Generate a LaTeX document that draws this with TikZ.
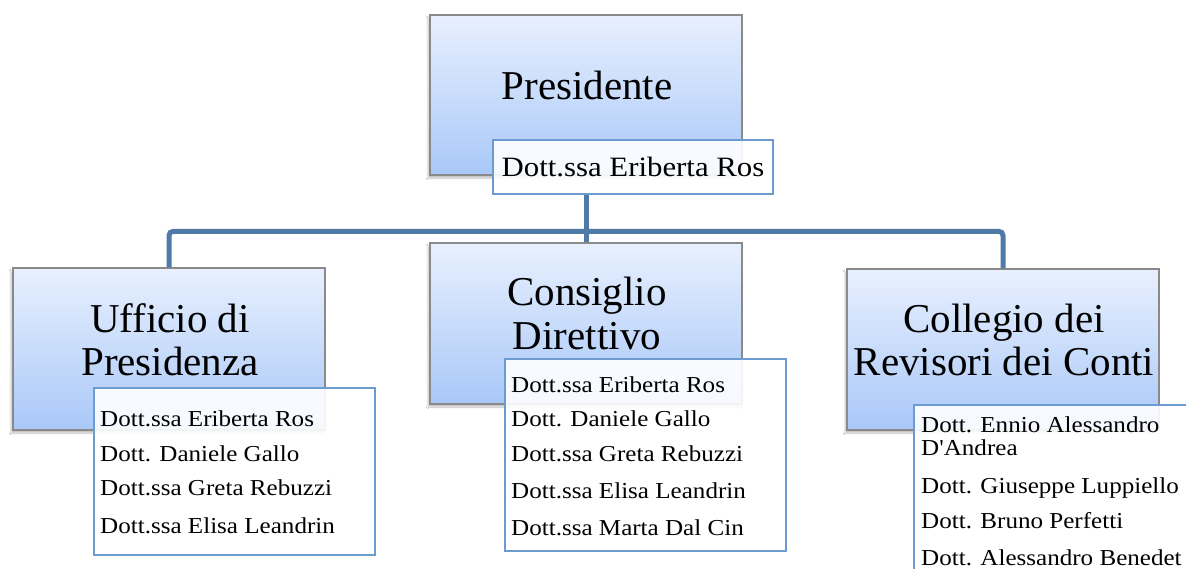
\documentclass[tikz,border=0pt]{standalone}
\usepackage{fontspec}
\setmainfont{Liberation Serif}
\newfontfamily\listfont[FakeStretch=1.1]{Liberation Serif}
\usetikzlibrary{shadows.blur}
\definecolor{boxtop}{HTML}{E8F0FE}
\definecolor{boxbot}{HTML}{A9C8F8}
\definecolor{boxline}{HTML}{8A8A8A}
\definecolor{listline}{HTML}{6C9BD2}
\definecolor{connline}{HTML}{4F7AA8}
\tikzset{
  orgbox/.style={draw=boxline, line width=1.2pt, top color=boxtop, bottom color=boxbot,
    minimum width=312pt, inner sep=0pt,
    blur shadow={shadow xshift=-2pt, shadow yshift=-3pt, shadow opacity=25, shadow blur steps=4}},
  listbox/.style={draw=listline, line width=1.5pt, fill=white, fill opacity=0.9, draw opacity=1, inner sep=0pt},
  title/.style={anchor=base, inner sep=0pt, font=\fontsize{41}{41}\selectfont},
  toplist/.style={anchor=base, inner sep=0pt, font=\listfont\fontsize{28}{28}\selectfont},
  member/.style={anchor=base west, inner sep=0pt, font=\listfont\fontsize{22.8}{22.8}\selectfont},
  conn/.style={draw=connline, line width=5pt}
}
\begin{document}
\begin{tikzpicture}[x=1pt,y=-1pt]
\clip (0,0) rectangle (1186,569);
\fill[white] (0,0) rectangle (1186,569);
% boxes
\node[orgbox, minimum height=160pt] (pres) at (586,95) {};
\node[orgbox, minimum height=162pt] (uff) at (169,349) {};
\node[orgbox, minimum height=161pt] (cons) at (586,323.5) {};
\node[orgbox, minimum height=161pt] (col) at (1003,349.5) {};
% connectors
\draw[conn, rounded corners=4pt] (uff.north) -- ++(0,-36) -| (col.north);
% titles
\node[title] (t1) at (587,100) {Presidente};
\node[title] (t2a) at (170,332) {Ufficio di};
\node[title] (t2b) at (170,375) {Presidenza};
\node[title] (t3a) at (587,306) {Consiglio};
\node[title] (t3b) at (587,349) {Direttivo};
\node[title] (t4a) at (1004,332) {Collegio dei};
\node[title] (t4b) at (1004,375) {Revisori dei Conti};
% list boxes
\node[listbox, minimum width=280pt, minimum height=54pt] (preslist) at (633,167) {};
\draw[conn] (preslist.south -| cons.north) -- (cons.north);
\node[listbox, minimum width=281pt, minimum height=167pt] (ufflist) at (234.5,471.5) {};
\node[listbox, minimum width=281pt, minimum height=192pt] (conslist) at (645.5,455) {};
\node[listbox, minimum width=286pt, minimum height=195pt] (collist) at (1057,502.5) {};
% list texts
\node[toplist] (p1) at (633,177) {Dott.ssa Eriberta Ros};
\node[member] (u1) at (100,426) {Dott.ssa Eriberta Ros};
\node[member] (u2) at (100,461) {Dott. Daniele Gallo};
\node[member] (u3) at (100,495) {Dott.ssa Greta Rebuzzi};
\node[member] (u4) at (100,533) {Dott.ssa Elisa Leandrin};
\node[member] (c1) at (511,392) {Dott.ssa Eriberta Ros};
\node[member] (c2) at (511,426) {Dott. Daniele Gallo};
\node[member] (c3) at (511,461) {Dott.ssa Greta Rebuzzi};
\node[member] (c4) at (511,498) {Dott.ssa Elisa Leandrin};
\node[member] (c5) at (511,535) {Dott.ssa Marta Dal Cin};
\node[member] (r1) at (921,432) {Dott. Ennio Alessandro};
\node[member] (r1b) at (921,455) {D'Andrea};
\node[member] (r2) at (921,493) {Dott. Giuseppe Luppiello};
\node[member] (r3) at (921,528) {Dott. Bruno Perfetti};
\node[member] (r4) at (921,565) {Dott. Alessandro Benedet};
\end{tikzpicture}
\end{document}
